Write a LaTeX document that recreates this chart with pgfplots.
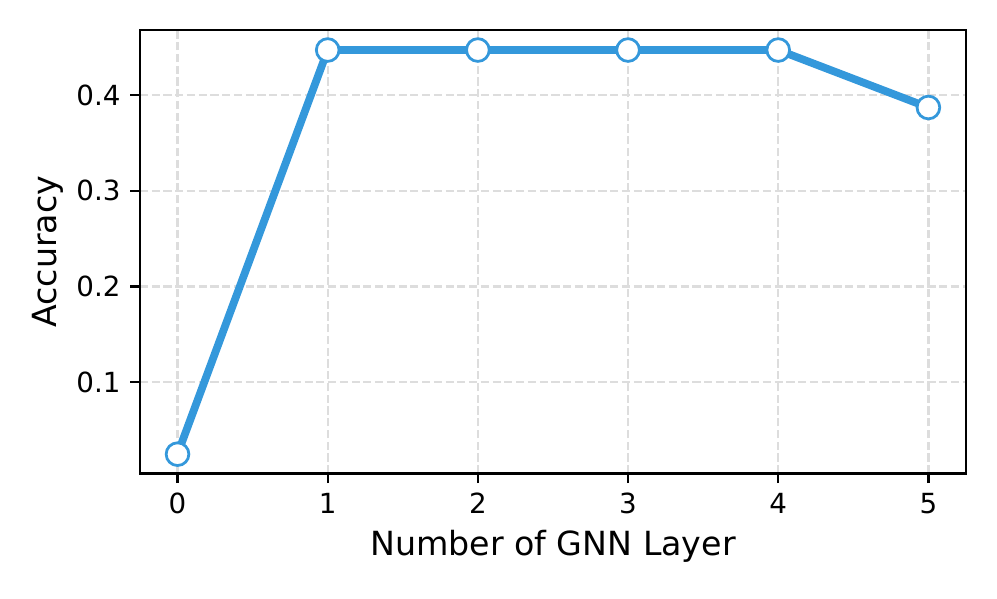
\documentclass[border=0pt]{standalone}
\usepackage{fontspec}
\setmainfont{DejaVu Sans}
\usepackage{pgfplots}
\pgfplotsset{compat=1.18}
\definecolor{lineblue}{HTML}{3498DB}
\definecolor{gridgray}{HTML}{DDDDDD}

\begin{document}
\begin{tikzpicture}
\useasboundingbox (-50.5bp,-45bp) rectangle (309.2bp,170.8bp);
\begin{axis}[
 scale only axis,
 width=298bp, height=160bp,
 at={(0,0)}, anchor=south west,
 xmin=-0.25, xmax=5.25,
 ymin=0.0049, ymax=0.468,
 xtick={0,1,2,3,4,5},
 ytick={0.1,0.2,0.3,0.4},
 yticklabel style={/pgf/number format/fixed,/pgf/number format/precision=1},
 /pgf/number format/assume math mode=true,
 tick label style={font=\fontsize{10bp}{12bp}\selectfont},
 label style={font=\fontsize{12bp}{14bp}\selectfont},
 xlabel={Number of GNN Layer},
 ylabel={Accuracy},
 tick align=outside,
 major tick length=3.5bp,
 tick style={line width=0.8bp,black},
 axis line style={line width=0.8bp},
 xtick pos=bottom, ytick pos=left,
 grid=major,
 major grid style={draw=gridgray,line width=0.8bp,dash pattern=on 2.96bp off 1.28bp},
 xlabel style={yshift=1bp},
 ylabel style={yshift=-2bp},
]
\addplot[color=lineblue,line width=2.8bp,mark=*,mark size=4.1bp,
 mark options={fill=white,draw=lineblue,line width=1bp}]
 coordinates {(0,0.025) (1,0.447) (2,0.447) (3,0.447) (4,0.447) (5,0.387)};
\end{axis}
\end{tikzpicture}
\end{document}
